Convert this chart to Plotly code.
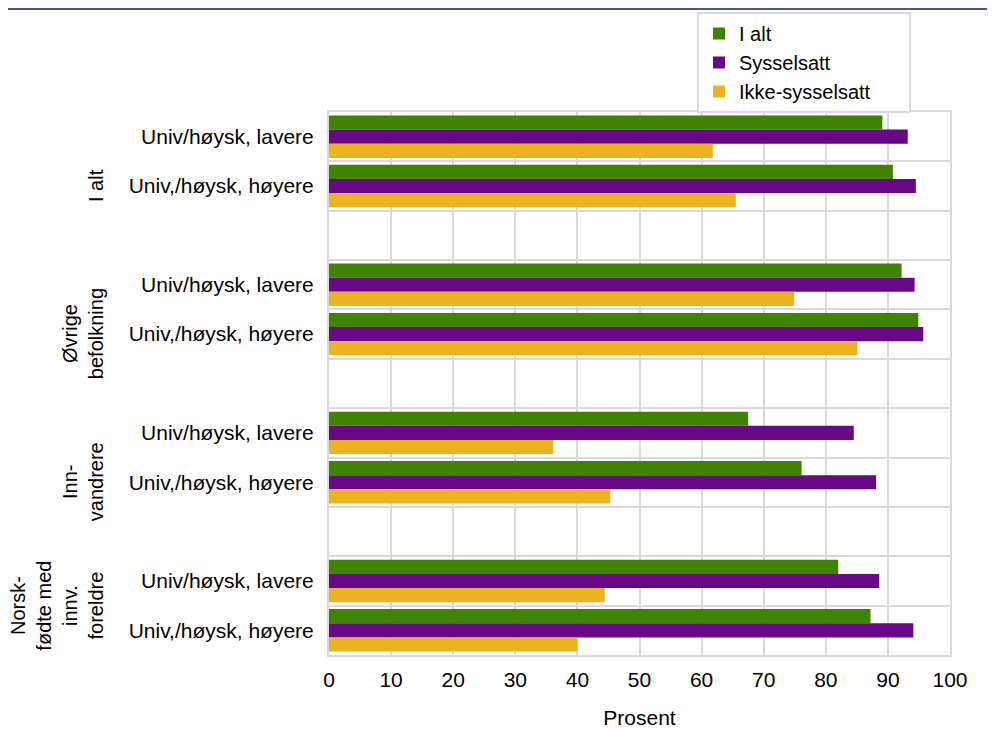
import plotly.graph_objects as go

# ---- data ----
groups = ["I alt", "Øvrige<br>befolkning", "Inn-<br>vandrere", "Norsk-<br>fødte med<br>innv.<br>foreldre"]
levels = ["Univ/høysk, lavere", "Univ,/høysk, høyere"]
series_names = ["I alt", "Sysselsatt", "Ikke-sysselsatt"]
# values per group: [lavere, høyere]
i_alt = [[89.1, 90.8], [92.2, 94.9], [67.5, 76.1], [82.0, 87.2]]
sysselsatt = [[93.2, 94.5], [94.3, 95.7], [84.5, 88.1], [88.6, 94.1]]
ikke_sysselsatt = [[61.8, 65.5], [74.9, 85.1], [36.1, 45.3], [44.4, 40.0]]
x_ticks = [0, 10, 20, 30, 40, 50, 60, 70, 80, 90, 100]

colors = ["#3f8400", "#680887", "#ecb220"]
FONT = "Liberation Sans, Arial, sans-serif"
FS = 21

# category slots: each group gets its two levels plus a spacer slot (except the last)
positions, labels, group_slots = [], [], []
slot = 0
for gi, g in enumerate(groups):
    slots = []
    for lv in levels:
        positions.append(slot)
        labels.append(lv)
        slots.append(slot)
        slot += 1
    if gi < len(groups) - 1:
        slots.append(slot)
        slot += 1
    group_slots.append(slots)
n_slots = slot
boundaries = [p - 0.5 for p in range(n_slots + 1)]

fig = go.Figure()
for name, vals, col in zip(series_names, [i_alt, sysselsatt, ikke_sysselsatt], colors):
    flat = [v for pair in vals for v in pair]
    fig.add_trace(go.Bar(x=flat, y=positions, name=name + "\u00a0" * 6, orientation="h",
                         marker=dict(color=col, line=dict(width=0))))
# helper trace for the gridline axis
fig.add_trace(go.Scatter(x=[0], y=[0], yaxis="y2", mode="markers",
                         marker=dict(opacity=0), showlegend=False, hoverinfo="skip"))

# page layout (page has an 8px body margin)
OFF = 8
PL, PR, PT, PB = 329, 950, 112, 655   # plot area in page pixels
W, H = 995 - OFF, 729 - OFF
L, T = PL - OFF, PT - OFF
R, B = W - (PR - OFF), H - (PB - OFF)
pw, ph = PR - PL, PB - PT

annotations = []
for g, slots in zip(groups, group_slots):
    annotations.append(dict(text=g, x=0, xref="paper", y=sum(slots) / len(slots), yref="y",
                            xanchor="right", yanchor="middle", xshift=-220, textangle=-90,
                            showarrow=False, align="center",
                            font=dict(family=FONT, size=20, color="#000")))

fig.update_layout(
    width=W, height=H,
    margin=dict(l=L, r=R, t=T, b=B, autoexpand=False),
    paper_bgcolor="white", plot_bgcolor="white",
    barmode="group", bargap=0.14, bargroupgap=0,
    font=dict(family=FONT, size=FS, color="#000"),
    xaxis=dict(range=[0, 100], tickvals=x_ticks, showgrid=True, gridcolor="#d9d9d9", gridwidth=2,
               zeroline=False, showline=True, mirror=True, linecolor="#d9d9d9", linewidth=2,
               ticks="outside", ticklen=5, tickcolor="rgba(0,0,0,0)", automargin=False,
               tickfont=dict(family=FONT, size=FS, color="#000"),
               title=dict(text="Prosent", font=dict(family=FONT, size=FS, color="#000"), standoff=22)),
    yaxis=dict(range=[n_slots - 0.5, -0.5], tickvals=positions, ticktext=labels, showgrid=False,
               zeroline=False, showline=True, mirror=True, linecolor="#d9d9d9", linewidth=2,
               ticks="outside", ticklen=9, tickcolor="rgba(0,0,0,0)", automargin=False,
               tickfont=dict(family=FONT, size=FS, color="#000")),
    yaxis2=dict(range=[n_slots - 0.5, -0.5], overlaying="y", anchor="x", side="left",
                tickvals=boundaries, showticklabels=False, showgrid=True, gridcolor="#d9d9d9",
                gridwidth=2, zeroline=False, showline=False, ticks="", automargin=False),
    legend=dict(x=(697 - PL) / pw, y=(PB - 12) / ph, xanchor="left", yanchor="top",
                bordercolor="#d9d9d9", borderwidth=2, bgcolor="white",
                font=dict(family=FONT, size=20, color="#000"), traceorder="normal"),
    annotations=annotations,
    shapes=[dict(type="line", xref="paper", yref="paper",
                 x0=(4 - PL) / pw, x1=(995 - PL) / pw,
                 y0=(PB - 8.5) / ph, y1=(PB - 8.5) / ph,
                 line=dict(color="#445a85", width=3))],
)

fig.write_html("out.html")
